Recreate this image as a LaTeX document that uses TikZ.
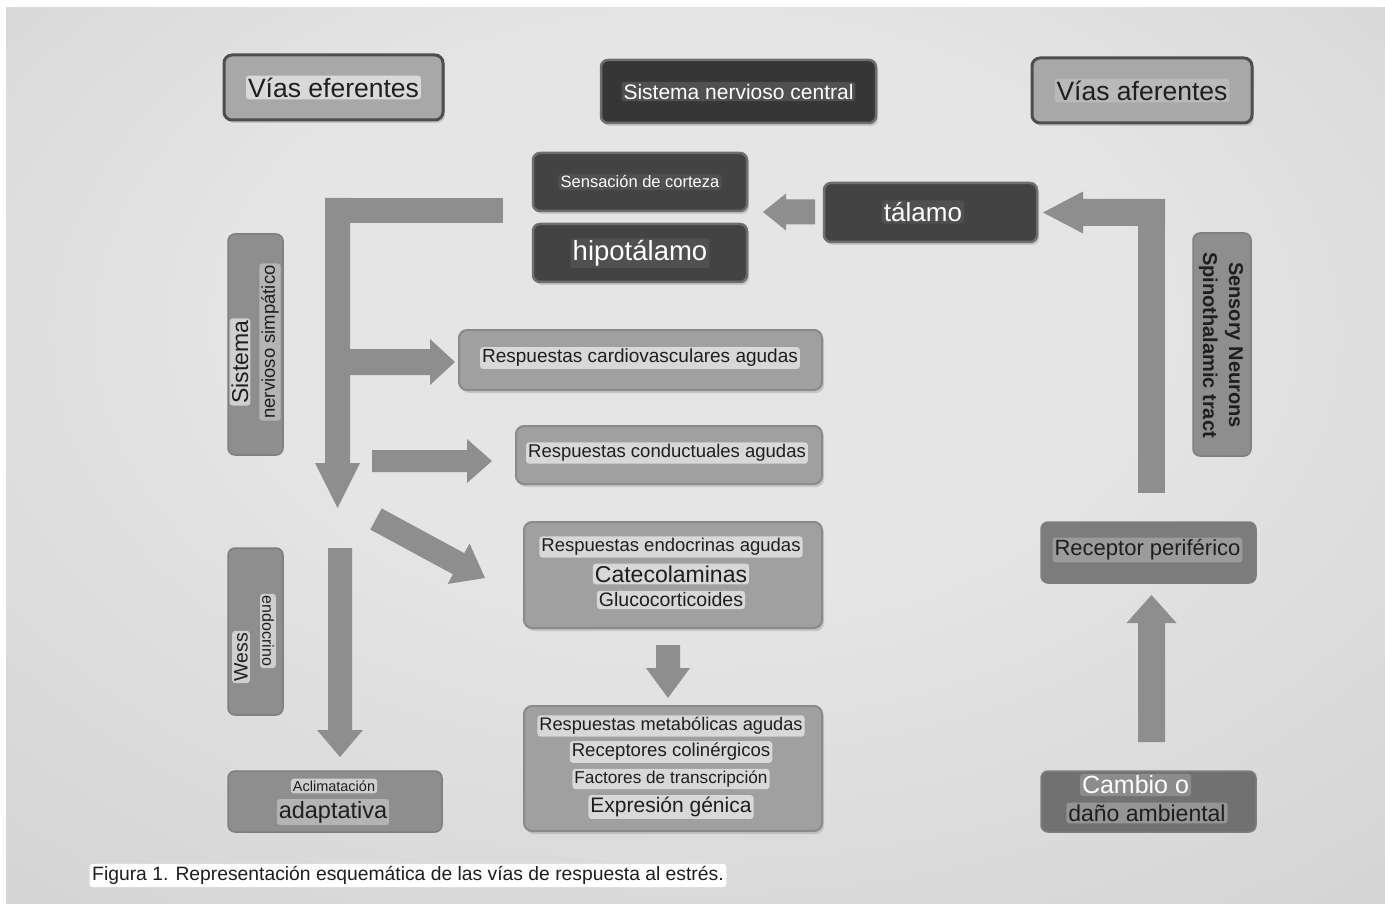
\documentclass[tikz,border=0pt]{standalone}
\usepackage{fontspec}
\setmainfont{Liberation Sans}
\usetikzlibrary{arrows.meta, calc, shadows}

\definecolor{bgin}{gray}{0.90}
\definecolor{bgmid}{gray}{0.80}
\definecolor{bgout}{gray}{0.74}
\definecolor{hdrfill}{HTML}{A8A8A8}
\definecolor{hdrline}{HTML}{4E4E4E}
\definecolor{darkfill}{HTML}{434343}
\definecolor{sncfill}{HTML}{363636}
\definecolor{darkline}{HTML}{6E6E6E}
\definecolor{respfill}{HTML}{A0A0A0}
\definecolor{respline}{HTML}{8A8A8A}
\definecolor{sidefill}{HTML}{8E8E8E}
\definecolor{sideline}{HTML}{7E7E7E}
\definecolor{recfill}{HTML}{7C7C7C}
\definecolor{camfill}{HTML}{717171}
\definecolor{lbllight}{HTML}{D8D8D8}
\definecolor{lblhi}{HTML}{D9D9D9}
\definecolor{lblmid}{HTML}{B9B9B9}
\definecolor{lbldark}{HTML}{505050}
\definecolor{lblside}{HTML}{CFCFCF}
\definecolor{lblside2}{HTML}{B4B4B4}
\definecolor{lblrec}{HTML}{9B9B9B}
\definecolor{lblcam}{HTML}{8C8C8C}
\definecolor{lblcam2}{HTML}{959595}
\definecolor{arrgray}{HTML}{8E8E8E}
\definecolor{txtdark}{HTML}{1E1E1E}

\pgfdeclareradialshading{panelshade}{\pgfpoint{0bp}{10bp}}{color(0bp)=(bgin); color(15bp)=(bgin); color(50bp)=(bgmid); color(72bp)=(bgout)}

\newcommand{\fsz}[1]{\fontsize{#1}{#1}\selectfont}
% block arrow: start, tip, half shaft, half head, head length
\newcommand{\barrow}[5]{%
  \coordinate (hb) at ($(#2)!#5!(#1)$);
  \fill[arrfill] ($(#1)!#3!90:(#2)$) -- ($(hb)!#3!90:(#2)$) -- ($(hb)!#4!90:(#2)$)
    -- (#2) -- ($(hb)!#4!-90:(#2)$) -- ($(hb)!#3!-90:(#2)$) -- ($(#1)!#3!-90:(#2)$) -- cycle;
}

\begin{document}
\begin{tikzpicture}[x=1pt, y=-1pt,
    hdr/.style={draw=hdrline, line width=3pt, fill=hdrfill, rounded corners=8pt,
                drop shadow={shadow xshift=2pt, shadow yshift=-3pt, opacity=0.3}},
    dark/.style={draw=darkline, line width=2.5pt, fill=darkfill, rounded corners=7pt,
                 drop shadow={shadow xshift=2pt, shadow yshift=-3pt, opacity=0.3}},
    resp/.style={draw=respline, line width=2pt, fill=respfill, rounded corners=8pt,
                 drop shadow={shadow xshift=2pt, shadow yshift=-3pt, opacity=0.3}},
    side/.style={draw=sideline, line width=1.5pt, fill=sidefill, rounded corners=7pt},
    lbl/.style={fill=lbllight, rounded corners=3pt, inner sep=2pt, text=txtdark},
    arrfill/.style={fill=arrgray},
    arrline/.style={draw=arrgray, line cap=butt}
]

% background
\fill[white] (0,0) rectangle (1385,904);
\shade[shading=panelshade] (6,8) rectangle (1385,904);
\useasboundingbox (0,0) rectangle (1385,904);

% --- headers ---
\node[hdr, minimum width=219pt, minimum height=65pt] (eff) at (333.5,87.5) {};
\node[lbl, fill=lblhi, font=\fsz{26.5}] (efftx) at (eff) {Vías eferentes};
\node[dark, fill=sncfill, minimum width=275pt, minimum height=63pt] (snc) at (738.5,91.5) {};
\node[lbl, fill=lbldark, text=white, font=\fsz{21}] (snctx) at (snc) {Sistema nervioso central};
\node[hdr, minimum width=220pt, minimum height=65pt] (aff) at (1142,90.5) {};
\node[lbl, fill=lblmid, font=\fsz{26.5}] (afftx) at (aff) {Vías aferentes};

% --- sistema nervioso central ---
\node[dark, minimum width=214pt, minimum height=58pt] (cortex) at (640,182) {};
\node[lbl, fill=lbldark, text=white, font=\fsz{16.5}] (cortextx) at (cortex) {Sensación de corteza};
\node[dark, minimum width=214pt, minimum height=58pt] (hipo) at (640,253) {};
\node[lbl, fill=lbldark, text=white, font=\fsz{27.5}] (hipotx) at (hipo) {hipotálamo};
\node[dark, minimum width=213pt, minimum height=59pt] (talamo) at (930.5,212.5) {};
\node[lbl, fill=lbldark, text=white, font=\fsz{26}] (talamotx) at (923,212) {tálamo};

% --- vias eferentes ---
\node[side, minimum width=55pt, minimum height=221pt] (sns) at (255.5,344.5) {};
\node[lbl, fill=lblside, rotate=90, font=\fsz{23}] (snstx1) at (240,362) {Sistema};
\node[lbl, fill=lblside2, rotate=90, font=\fsz{18.5}] (snstx2) at (270,342) {nervioso simpático};

\node[resp, minimum width=363pt, minimum height=60pt] (cardio) at (640.5,360) {};
\node[lbl, font=\fsz{19}] (cardiotx) at (640,358) {Respuestas cardiovasculares agudas};
\node[resp, minimum width=306pt, minimum height=58pt] (conduct) at (669,455) {};
\node[lbl, font=\fsz{18.5}] (conducttx) at (667,453) {Respuestas conductuales agudas};

\node[resp, minimum width=298pt, minimum height=106pt] (endo) at (673,575) {};
\node[lbl, font=\fsz{18.5}] (endotx1) at (671,547) {Respuestas endocrinas agudas};
\node[lbl, font=\fsz{23}] (endotx2) at (671,574) {Catecolaminas};
\node[lbl, font=\fsz{19.5}] (endotx3) at (671,600) {Glucocorticoides};

\node[resp, minimum width=298pt, minimum height=125pt] (metab) at (673,768.5) {};
\node[lbl, font=\fsz{18.2}] (metabtx1) at (671,726) {Respuestas metabólicas agudas};
\node[lbl, font=\fsz{18.6}] (metabtx2) at (671,752) {Receptores colinérgicos};
\node[lbl, font=\fsz{17.2}] (metabtx3) at (671,779) {Factores de transcripción};
\node[lbl, font=\fsz{21}] (metabtx4) at (671,807) {Expresión génica};

\node[side, minimum width=55pt, minimum height=167pt] (wess) at (255.5,631.5) {};
\node[lbl, fill=lblside, rotate=90, font=\fsz{19.5}] (wesstx1) at (241,657) {Wess};
\node[lbl, fill=lblside, rotate=-90, font=\fsz{16}] (wesstx2) at (268,631) {endocrino};

\node[side, minimum width=214pt, minimum height=61pt] (aclim) at (335,801.5) {};
\node[lbl, fill=lblside, font=\fsz{14.5}] (aclimtx1) at (334,786) {Aclimatación};
\node[lbl, fill=lblside2, font=\fsz{23.5}] (aclimtx2) at (333,812) {adaptativa};

% --- vias aferentes ---
\node[side, minimum width=58pt, minimum height=223pt] (sens) at (1222,344.5) {};
\node[rotate=-90, align=center, text=txtdark, font=\fontsize{20}{26}\selectfont\bfseries]
    (senstx) at (1221,345) {Sensory Neurons\\Spinothalamic tract};

\node[side, fill=recfill, minimum width=215pt, minimum height=61pt] (recep) at (1148.5,552.5) {};
\node[lbl, fill=lblrec, font=\fsz{22}] (receptx) at (1147.5,550) {Receptor periférico};
\node[side, fill=camfill, minimum width=215pt, minimum height=61pt] (cambio) at (1148.5,801.5) {};
\node[lbl, fill=lblcam, text=white, font=\fsz{25}] (cambiotx1) at (1135.5,785) {Cambio o};
\node[lbl, fill=lblcam2, font=\fsz{23}] (cambiotx2) at (1147,813) {daño ambiental};

% caption
\node[fill=white, rounded corners=3pt, inner sep=2.5pt, text=txtdark, font=\fsz{19.3}]
    (caption) at (408,875.5) {Figura 1. Representación esquemática de las vías de respuesta al estrés.};

% --- block arrows ---
\coordinate (efstart) at (503,210.5);
\coordinate (efcorner) at (337.5,210.5);
\coordinate (eftop) at (337.5,198);
\coordinate (eftip) at (337.5,508);
\draw[arrline, line width=25pt] (efstart) -- (efcorner);
\barrow{eftop}{eftip}{12.5pt}{22.5pt}{45pt}

\coordinate (cvfrom) at (350,362);
\coordinate (cvto) at (455,362);
\barrow{cvfrom}{cvto}{13pt}{23pt}{25pt}

\coordinate (cdfrom) at (372,461);
\coordinate (cdto) at (492,461);
\barrow{cdfrom}{cdto}{11pt}{22pt}{25pt}

\coordinate (enfrom) at (376,519);
\coordinate (ento) at (485,578);
\barrow{enfrom}{ento}{12pt}{23pt}{30pt}

\coordinate (acfrom) at (340,548);
\coordinate (acto) at (340,757);
\barrow{acfrom}{acto}{12pt}{23pt}{27pt}

\coordinate (mefrom) at (668,645);
\coordinate (meto) at (668,698);
\barrow{mefrom}{meto}{12pt}{22pt}{30pt}

\coordinate (tafrom) at (815,212);
\coordinate (tato) at (763,212);
\barrow{tafrom}{tato}{12.5pt}{18.5pt}{23pt}

\coordinate (snbot) at (1151.5,493);
\coordinate (sncorner) at (1151.5,199);
\coordinate (snfrom) at (1165,212.5);
\coordinate (snto) at (1043,212.5);
\draw[arrline, line width=27pt] (snbot) -- (sncorner);
\barrow{snfrom}{snto}{13.5pt}{21pt}{40pt}

\coordinate (rcfrom) at (1151.5,742);
\coordinate (rcto) at (1151.5,595);
\barrow{rcfrom}{rcto}{13.5pt}{25pt}{28pt}

\end{tikzpicture}
\end{document}
